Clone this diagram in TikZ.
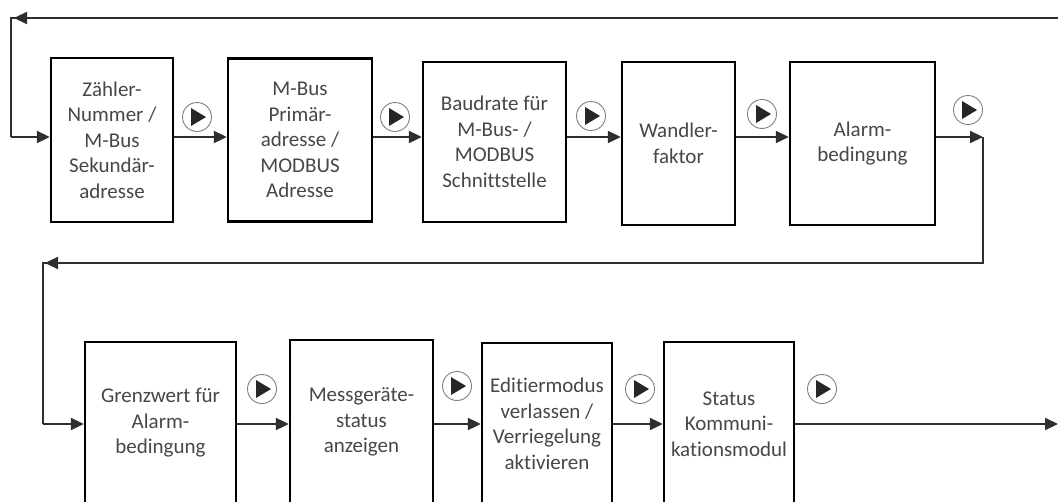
\documentclass[tikz,border=0pt]{standalone}
\usepackage{fontspec}
\setmainfont{Carlito}[Ligatures={NoCommon,NoRare}]
\usetikzlibrary{arrows.meta}
\begin{document}
\begin{tikzpicture}[x=1pt,y=-1pt,
 box/.style={draw=black, line width=2.4pt, fill=white, align=center,
   font=\fontsize{21}{25.5}\selectfont, text=black!72, inner sep=0pt},
 arr/.style={line width=2.1pt, draw=black!82, line join=miter,
   -{Triangle[length=13pt,width=12pt]}},
 ln/.style={line width=2.1pt, draw=black!82, line join=miter},
 play/.style={circle, draw=black!50, line width=0.9pt, minimum size=29pt,
   inner sep=0pt,
   path picture={\fill[black!85]
     ([xshift=-6pt,yshift=9pt]path picture bounding box.center) --
     ([xshift=9pt]path picture bounding box.center) --
     ([xshift=-6pt,yshift=-9pt]path picture bounding box.center) -- cycle;}}]
\fill[white] (0,0) rectangle (1058,501);
\useasboundingbox (0,0) rectangle (1058,501);

% top row
\node[box, minimum width=122pt, minimum height=164pt] (b1) at (112,140)
  {Zähler-\\Nummer /\\M-Bus\\Sekundär-\\adresse};
\node[box, minimum width=144pt, minimum height=163pt] (b2) at (300,140)
  {M-Bus\\Primär-\\adresse /\\MODBUS\\Adresse};
\node[box, minimum width=143pt, minimum height=160pt] (b3) at (494.5,142)
  {Baudrate für\\M-Bus- /\\MODBUS\\Schnittstelle};
\node[box, minimum width=113pt, minimum height=163pt] (b4) at (678.5,143.5)
  {Wandler-\\faktor};
\node[box, minimum width=145pt, minimum height=163pt] (b5) at (862.5,143.5)
  {Alarm-\\bedingung};

% bottom row
\node[box, minimum width=151pt, minimum height=162pt] (b6) at (160.5,423)
  {Grenzwert für\\Alarm-\\bedingung};
\node[box, minimum width=143pt, minimum height=164pt] (b7) at (361.5,422)
  {Messgeräte-\\status\\anzeigen};
\node[box, minimum width=130pt, minimum height=162pt] (b8) at (547,424)
  {Editiermodus\\verlassen /\\Verriegelung\\aktivieren};
\node[box, minimum width=130pt, minimum height=164pt] (b9) at (729,424)
  {Status\\Kommuni-\\kationsmodul};

% helper coordinates
\coordinate (r1) at (0,137);
\coordinate (r2) at (0,424);
\coordinate (tr) at (1062,18);
\coordinate (tl) at (11,18);
\coordinate (th) at (32,18);
\coordinate (tt) at (14,18);
\coordinate (tlb) at (11,137);
\coordinate (c1) at (983,137);
\coordinate (c2) at (983,263);
\coordinate (c3) at (43,263);
\coordinate (ch) at (62,263);
\coordinate (ct) at (45,263);
\coordinate (c4) at (43,424);
\coordinate (fin) at (1058,424);

% feedback to start
\draw[ln] (tr) -- (tl) -- (tlb);
\draw[arr] (th) -- (tt);
\draw[arr] (tlb) -- (b1.west|-r1);

% top row arrows
\draw[arr] (b1.east|-r1) -- (b2.west|-r1);
\draw[arr] (b2.east|-r1) -- (b3.west|-r1);
\draw[arr] (b3.east|-r1) -- (b4.west|-r1);
\draw[arr] (b4.east|-r1) -- (b5.west|-r1);
\draw[arr] (b5.east|-r1) -- (c1);

% link between rows
\draw[ln] (c1) -- (c2) -- (c3) -- (c4);
\draw[arr] (ch) -- (ct);
\draw[arr] (c4) -- (b6.west|-r2);

% bottom row arrows
\draw[arr] (b6.east|-r2) -- (b7.west|-r2);
\draw[arr] (b7.east|-r2) -- (b8.west|-r2);
\draw[arr] (b8.east|-r2) -- (b9.west|-r2);
\draw[arr] (b9.east|-r2) -- (fin);

% play icons
\node[play] (p1) at (197,117) {};
\node[play] (p2) at (395,117) {};
\node[play] (p3) at (591,116) {};
\node[play] (p4) at (762,114) {};
\node[play] (p5) at (968,110) {};
\node[play] (p6) at (262,389) {};
\node[play] (p7) at (457,386) {};
\node[play] (p8) at (640,389) {};
\node[play] (p9) at (822,389) {};
\end{tikzpicture}
\end{document}
